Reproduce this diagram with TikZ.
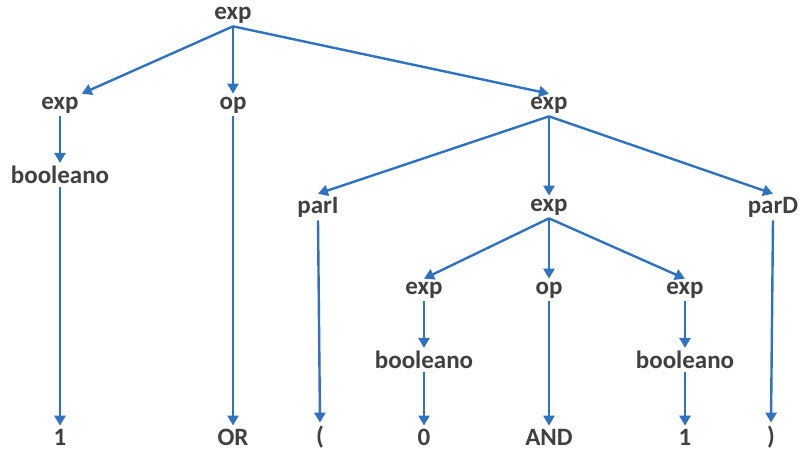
\documentclass[tikz,border=0pt]{standalone}
\usepackage{fontspec}
\setmainfont{Carlito}
\usetikzlibrary{arrows.meta}
\definecolor{tx}{HTML}{404040}
\definecolor{ar}{HTML}{2E72C0}
\begin{document}
\begin{tikzpicture}[x=1pt,y=-1pt,
  t/.style={font=\fontsize{25}{27}\selectfont\bfseries,text=tx,inner sep=3pt},
  a/.style={draw=ar,line width=2.4pt,-{Triangle[length=10pt,width=11pt]}}]
\useasboundingbox (0,0) rectangle (807,456);
\node[t] (r) at (233,15) {exp};
\node[t] (e1) at (60,105) {exp};
\node[t] (b1) at (60,175) {booleano};
\node[t] (l1) at (60,437) {1};
\node[t] (o1) at (233,105) {op};
\node[t] (l2) at (233,437) {OR};
\node[t] (e2) at (549,105) {exp};
\node[t] (pi) at (318,207) {parI};
\node[t] (l3) at (320,437) {(};
\node[t] (e3) at (549,207) {exp};
\node[t] (pd) at (773,207) {parD};
\node[t] (l7) at (771,437) {)};
\node[t] (e4) at (424,290) {exp};
\node[t] (b2) at (424,360) {booleano};
\node[t] (l4) at (424,437) {0};
\node[t] (o2) at (549,290) {op};
\node[t] (l5) at (549,437) {AND};
\node[t] (e5) at (685,290) {exp};
\node[t] (b3) at (685,360) {booleano};
\node[t] (l6) at (685,437) {1};
\draw[a] (r.south) -- (e1.north east);
\draw[a] (r.south) -- (o1.north);
\draw[a] (r.south) -- (e2.north);
\draw[a] (e1) -- (b1);
\draw[a] (b1) -- (l1);
\draw[a] (o1) -- (l2);
\draw[a] (e2.south) -- (pi.north);
\draw[a] (e2) -- (e3);
\draw[a] (e2.south) -- (pd.north);
\draw[a] (pi.south) -- (l3.north);
\draw[a] (pd.south) -- (l7.north);
\draw[a] (e3.south) -- (e4.north);
\draw[a] (e3) -- (o2);
\draw[a] (e3.south) -- (e5.north);
\draw[a] (e4) -- (b2);
\draw[a] (b2) -- (l4);
\draw[a] (o2) -- (l5);
\draw[a] (e5) -- (b3);
\draw[a] (b3) -- (l6);
\end{tikzpicture}
\end{document}
